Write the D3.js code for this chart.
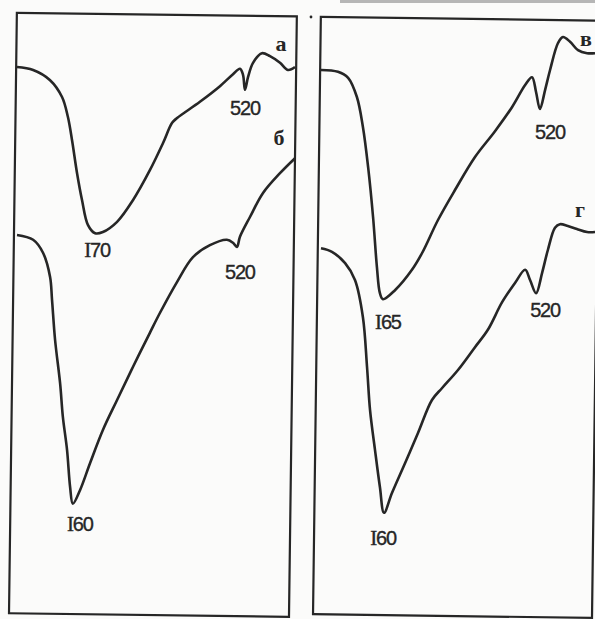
<!DOCTYPE html>
<html>
<head>
<meta charset="utf-8">
<script src="https://cdn.jsdelivr.net/npm/d3@7"></script>
<style>
  html, body { margin: 0; padding: 0; background: #fbfbfa; }
  svg { display: block; }
</style>
</head>
<body>
<svg id="chart" width="595" height="619"></svg>
<script>
// DTA curves: x = relative heating progress (0..100 across a panel),
// y = relative ΔT signal (0..100, up = exothermic)
const curveA = [[0,91.0],[5.8,90.5],[11.9,88.8],[16.2,86.0],[18.3,82.7],[19.8,78.8],[21.6,73.3],[23.4,68.8],[25.5,64.7],[28.1,63.3],[30.9,63.5],[36.0,65.2],[41.7,68.8],[47.8,73.8],[52.5,78.3],[55.8,81.7],[57.6,82.5],[65.8,85.2],[73.0,87.8],[77.7,89.8],[80.2,90.7],[81.3,89.7],[82.0,87.2],[83.1,89.3],[84.9,91.7],[88.1,93.3],[91.0,92.8],[94.6,91.7],[97.5,90.5],[100,91.0]];
const curveB = [[0,63.0],[5.8,62.2],[9.4,60.0],[11.9,56.0],[12.6,52.2],[13.7,45.5],[15.5,38.3],[16.5,32.7],[18.0,27.2],[19.1,21.0],[20.1,18.2],[22.7,20.5],[26.3,25.0],[30.9,30.5],[36.0,35.5],[41.7,41.0],[47.8,46.7],[51.4,50.0],[57.6,55.2],[63.3,59.3],[69.4,61.3],[75.5,62.2],[77.7,61.7],[79.1,61.0],[80.2,62.7],[83.8,66.0],[88.5,70.0],[94.6,73.3],[100,75.8]];
const curveV = [[0,90.5],[6.2,90.2],[9.9,89.2],[13.1,86.0],[15.3,81.0],[17.2,74.3],[19.0,66.0],[20.4,57.7],[21.5,53.3],[22.6,52.3],[27.0,53.8],[33.2,57.2],[36.9,60.0],[42.7,65.5],[48.9,70.5],[56.2,76.0],[63.5,80.3],[69.7,84.3],[74.5,88.0],[77.0,89.3],[78.5,86.8],[79.9,84.0],[81.8,87.2],[83.6,90.5],[86.5,95.0],[88.3,96.0],[90.9,95.2],[93.8,93.8],[97.1,93.3],[100,93.3]];
const curveG = [[0,60.8],[4.0,60.2],[8.8,58.3],[12.4,55.5],[15.3,49.3],[16.8,41.0],[17.9,33.8],[19.7,27.2],[21.5,21.0],[23.0,16.7],[25.9,20.0],[30.7,25.0],[35.4,30.0],[40.5,35.5],[44.2,37.5],[50.0,40.5],[56.2,44.3],[60.9,47.2],[66.1,51.8],[70.8,55.0],[74.5,57.2],[76.3,55.5],[78.5,53.3],[80.7,56.7],[82.8,60.5],[85.4,64.2],[87.2,64.8],[90.1,64.5],[93.4,64.0],[97.1,63.5],[100,63.5]];

// curve names
const curveNames = ["а", "б", "в", "г"];

// thermal effects: x position on the curve and the temperature written under it
const effectsA = [{ x: 28.1, text: "I70" }, { x: 82.0, text: "520" }];
const effectsB = [{ x: 20.1, text: "I60" }, { x: 79.1, text: "520" }];
const effectsV = [{ x: 22.6, text: "I65" }, { x: 79.9, text: "520" }];
const effectsG = [{ x: 23.0, text: "I60" }, { x: 78.5, text: "520" }];

// ---- layout ----
const svg = d3.select("#chart");
const ink = "#262626";
const serif = "'Liberation Serif', 'DejaVu Serif', serif";
const sans = "'Liberation Sans', Arial, sans-serif";

const panels = [
  { x0: 17, x1: 295, frame: { x: 13, y: 16.5, w: 280, h: 600.5 },
    curves: [
      { data: curveA, name: 0, effects: effectsA, nameOff: [-14, -24], offs: [[2, 17], [0, 18]] },
      { data: curveB, name: 1, effects: effectsB, nameOff: [-16, -21], offs: [[7, 20], [3, 25]] }
    ] },
  { x0: 321, x1: 595, frame: { x: 317, y: 16.7, w: 279, h: 597.3 },
    curves: [
      { data: curveV, name: 2, effects: effectsV, nameOff: [-9, -15], offs: [[5, 23], [10, 23]] },
      { data: curveG, name: 3, effects: effectsG, nameOff: [-15, -23], offs: [[-1, 25], [9, 17]] }
    ] }
];

const y = d3.scaleLinear().domain([0, 100]).range([613, 13]);

// scan edge shading along the top
svg.append("line").attr("x1", 340).attr("x2", 595).attr("y1", 1.5).attr("y2", 1.5)
  .attr("stroke", "#9a9a9a").attr("stroke-width", 3).attr("opacity", 0.7);
svg.append("circle").attr("cx", 311).attr("cy", 17).attr("r", 1.4).attr("fill", ink);

panels.forEach(p => {
  const x = d3.scaleLinear().domain([0, 100]).range([p.x0, p.x1]);
  const line = d3.line()
    .x(d => x(d[0])).y(d => y(d[1]))
    .curve(d3.curveCatmullRom.alpha(0.5));

  // panel frame (slightly tilted, as on the sheet)
  svg.append("rect")
    .attr("x", p.frame.x).attr("y", p.frame.y)
    .attr("width", p.frame.w).attr("height", p.frame.h)
    .attr("transform", "rotate(0.75 300 310)")
    .attr("fill", "none").attr("stroke", ink).attr("stroke-width", 2.2);

  p.curves.forEach(c => {
    svg.append("path").datum(c.data)
      .attr("d", line)
      .attr("fill", "none").attr("stroke", ink)
      .attr("stroke-width", 2.6).attr("stroke-linejoin", "round");

    const last = c.data[c.data.length - 1];
    svg.append("text")
      .attr("x", x(last[0]) + c.nameOff[0]).attr("y", y(last[1]) + c.nameOff[1])
      .attr("text-anchor", "middle").attr("dominant-baseline", "central")
      .attr("font-family", serif)
      .attr("font-size", 22).attr("font-weight", "bold").attr("fill", ink)
      .text(curveNames[c.name]);

    c.effects.forEach((e, i) => {
      const pt = c.data.find(d => d[0] === e.x);
      const t = svg.append("text")
        .attr("x", x(pt[0]) + c.offs[i][0]).attr("y", y(pt[1]) + c.offs[i][1])
        .attr("text-anchor", "middle").attr("dominant-baseline", "central")
        .attr("font-family", sans)
        .attr("font-size", 20).attr("letter-spacing", -1.2)
        .attr("fill", ink).attr("stroke", ink).attr("stroke-width", 0.35);
      // typewriter "I" with serifs in front of the digits
      if (e.text[0] === "I") {
        t.append("tspan").attr("font-family", serif).attr("font-size", 21).text("I");
        t.append("tspan").text(e.text.slice(1));
      } else {
        t.text(e.text);
      }
    });
  });
});
</script>
</body>
</html>
